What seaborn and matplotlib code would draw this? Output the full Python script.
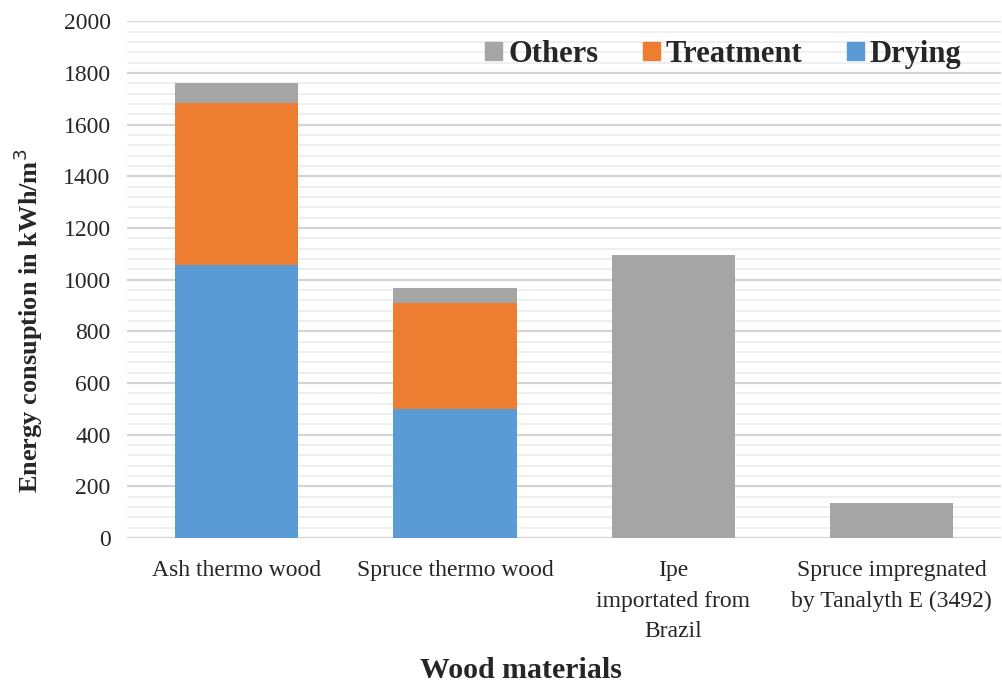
import numpy as np
import pandas as pd
import seaborn as sns
import matplotlib.pyplot as plt
from matplotlib.patches import Patch
from matplotlib.ticker import MultipleLocator

materials = ["Ash thermo wood", "Spruce thermo wood",
             "Ipe\nimportated from\nBrazil",
             "Spruce impregnated\nby Tanalyth E (3492)"]
drying = [1056, 500, 0, 0]
treatment = [627, 408, 0, 0]
others = [77, 60, 1095, 134]

c_dry = "#5B9BD5"
c_treat = "#ED7D31"
c_other = "#A5A5A5"

sns.set_theme(style="white")
plt.rcParams['font.family'] = ['Liberation Serif', 'DejaVu Serif']

df = pd.DataFrame({"material": materials, "drying": drying,
                   "treatment": treatment, "others": others})
df["top_treat"] = df["drying"] + df["treatment"]
df["total"] = df["top_treat"] + df["others"]

fig, ax = plt.subplots(figsize=(10.02, 6.85), dpi=100)
fig.subplots_adjust(left=0.127, right=0.999, bottom=0.2146, top=0.969)

# stacked look: draw the totals first, then cover with lower segments
sns.barplot(data=df, x="material", y="total", color=c_other, width=0.565,
            saturation=1, ax=ax, zorder=3)
sns.barplot(data=df, x="material", y="top_treat", color=c_treat, width=0.565,
            saturation=1, ax=ax, zorder=3)
sns.barplot(data=df, x="material", y="drying", color=c_dry, width=0.565,
            saturation=1, ax=ax, zorder=3)
for p in ax.patches:
    p.set_linewidth(0)

ax.set_ylim(0, 2000)
ax.set_xlim(-0.5, 3.5)
ax.yaxis.set_major_locator(MultipleLocator(200))
ax.yaxis.set_minor_locator(MultipleLocator(40))
ax.grid(axis="y", which="major", color="#d4d4d4", linewidth=1.6, zorder=0)
ax.grid(axis="y", which="minor", color="#ececec", linewidth=1.2, zorder=0)
ax.set_axisbelow(True)
for s in ax.spines.values():
    s.set_visible(False)
ax.tick_params(axis="both", which="both", length=0)
ax.tick_params(axis="y", labelsize=17, pad=12)
ax.tick_params(axis="x", labelsize=17, pad=16)
for t in ax.get_xticklabels():
    t.set_linespacing(1.6)

ax.set_ylabel("Energy consuption in kWh/m$^3$", fontsize=19, fontweight="bold")
ax.yaxis.set_label_coords(-0.094, 0.42)
ax.set_xlabel("Wood materials", fontsize=21.5, fontweight="bold")
ax.xaxis.set_label_coords(0.45, -0.23)

handles = [Patch(color=c_other, label="Others"),
           Patch(color=c_treat, label="Treatment"),
           Patch(color=c_dry, label="Drying")]
ax.legend(handles=handles, loc="center right", ncol=3, frameon=False,
          prop={"size": 22, "weight": "bold"}, handlelength=0.55,
          handleheight=0.55, handletextpad=0.2, columnspacing=1.45,
          borderpad=0, bbox_to_anchor=(0.972, 0.936))

fig.savefig("out.png", dpi=100)
